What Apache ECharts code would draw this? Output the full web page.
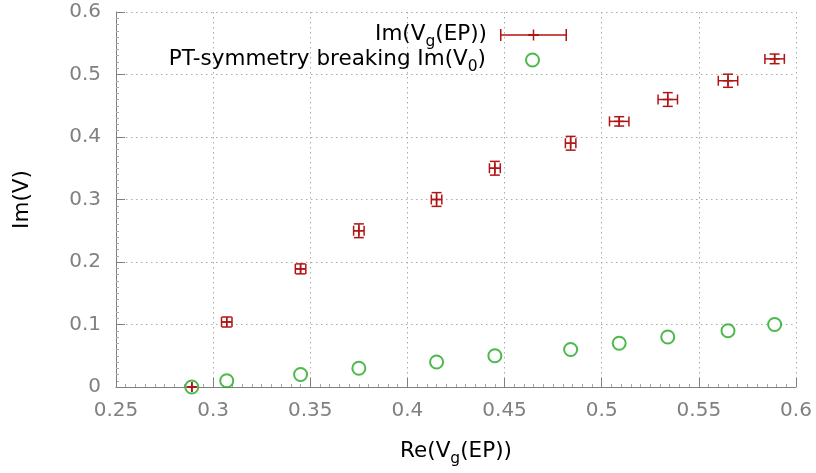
<!DOCTYPE html>
<html>
<head>
<meta charset="utf-8">
<script src="https://cdn.jsdelivr.net/npm/echarts@6/dist/echarts.min.js"></script>
<style>html,body{margin:0;padding:0;background:#fff}#c{width:816px;height:473px}</style>
</head>
<body>
<div id="c"></div>
<script>
var reVg   = [0.289, 0.307, 0.345, 0.375, 0.415, 0.445, 0.484, 0.509, 0.534, 0.565, 0.589];
var imVg   = [0, 0.104, 0.189, 0.25, 0.30, 0.35, 0.39, 0.425, 0.46, 0.49, 0.525];
var xErr   = [0, 0.0027, 0.0027, 0.0027, 0.0027, 0.0028, 0.0027, 0.005, 0.005, 0.005, 0.005];
var yErr   = [0, 0.008, 0.008, 0.011, 0.011, 0.011, 0.011, 0.0075, 0.011, 0.0105, 0.0077];
var imV0   = [0, 0.01, 0.02, 0.03, 0.04, 0.05, 0.06, 0.07, 0.08, 0.09, 0.10];
var xTicks = [0.25, 0.3, 0.35, 0.4, 0.45, 0.5, 0.55, 0.6];
var yTicks = [0, 0.1, 0.2, 0.3, 0.4, 0.5, 0.6];

var RED = '#b01515', GREEN = '#1ea81e', GRAY = '#808080';
var FONT = 'DejaVu Sans';

var errData = reVg.map(function (x, i) { return [x, imVg[i], xErr[i], yErr[i]]; });
var circData = reVg.map(function (x, i) { return [x, imV0[i]]; });

var richTxt = {
  n: { fontFamily: FONT, fontSize: 21.5, color: '#000', lineHeight: 24, verticalAlign: 'top' },
  s: { fontFamily: FONT, fontSize: 15.5, color: '#000', lineHeight: 20, padding: [11, 0, 0, 0], verticalAlign: 'top' }
};

var chart = echarts.init(document.getElementById('c'), null, { renderer: 'canvas' });
chart.setOption({
  animation: false,
  backgroundColor: '#fff',
  grid: { left: 116, right: 20, top: 12, bottom: 86 },
  xAxis: {
    type: 'value', min: xTicks[0], max: xTicks[xTicks.length - 1], interval: 0.05,
    name: '{n|Re(V}{s|g}{n|(EP))}', nameLocation: 'middle', nameGap: 53,
    nameTextStyle: { rich: richTxt },
    axisLine: { show: true, lineStyle: { color: GRAY, width: 1 } },
    axisTick: { show: true, inside: true, length: 9, lineStyle: { color: GRAY } },
    minorTick: { show: true, splitNumber: 10, length: 3, lineStyle: { color: '#aaa' } },
    axisLabel: { color: GRAY, fontSize: 20, fontFamily: FONT, margin: 14 },
    splitLine: { show: true, lineStyle: { color: '#aaa', type: [1.5, 3.5], width: 1 } }
  },
  yAxis: {
    type: 'value', min: yTicks[0], max: yTicks[yTicks.length - 1], interval: 0.1,
    name: 'Im(V)', nameLocation: 'middle', nameGap: 83,
    nameTextStyle: { color: '#000', fontSize: 21.5, fontFamily: FONT },
    axisLine: { show: true, lineStyle: { color: GRAY, width: 1 } },
    axisTick: { show: true, inside: true, length: 9, lineStyle: { color: GRAY } },
    minorTick: { show: true, splitNumber: 10, length: 3, lineStyle: { color: '#aaa' } },
    axisLabel: { color: GRAY, fontSize: 20, fontFamily: FONT, margin: 15 },
    splitLine: { show: true, lineStyle: { color: '#aaa', type: [1.5, 3.5], width: 1 } }
  },
  legend: [{
    data: [{ name: 'ImVg', icon: 'path://M0,0h1.5v12h-1.5z M0,5.25h67v1.5h-67z M65.5,0h1.5v12h-1.5z M32.75,0.5h1.5v11h-1.5z M28,5h11v2h-11z' }],
    right: 244, top: 18, align: 'right', orient: 'vertical',
    itemWidth: 67, itemHeight: 12,
    formatter: function () { return '{n|Im(V}{s|g}{n|(EP))}'; },
    textStyle: { rich: richTxt, padding: [0, 8, 0, 0] },
    itemStyle: { color: RED }
  }, {
    data: [{ name: 'PT', icon: 'emptyCircle' }],
    right: 271, top: 43, align: 'right', orient: 'vertical',
    itemWidth: 13, itemHeight: 13,
    formatter: function () { return '{n|PT-symmetry breaking Im(V}{s|0}{n|)}'; },
    textStyle: { rich: richTxt, padding: [0, 35, 0, 0] }
  }],
  series: [{
    name: 'ImVg', type: 'custom', clip: false, z: 3,
    itemStyle: { color: RED },
    data: errData,
    encode: { x: 0, y: 1 },
    renderItem: function (params, api) {
      var x = api.value(0), y = api.value(1), xe = api.value(2), ye = api.value(3);
      var c = api.coord([x, y]);
      var l = api.coord([x - xe, y]), r = api.coord([x + xe, y]);
      var t = api.coord([x, y + ye]), b = api.coord([x, y - ye]);
      var cap = 5, pl = 5;
      var st = { stroke: RED, lineWidth: 1.5, fill: null };
      function ln(x1, y1, x2, y2) { return { type: 'line', shape: { x1: x1, y1: y1, x2: x2, y2: y2 }, style: st }; }
      return { type: 'group', children: [
        ln(l[0], c[1], r[0], c[1]),
        ln(l[0], c[1] - cap, l[0], c[1] + cap),
        ln(r[0], c[1] - cap, r[0], c[1] + cap),
        ln(c[0], t[1], c[0], b[1]),
        ln(c[0] - cap, t[1], c[0] + cap, t[1]),
        ln(c[0] - cap, b[1], c[0] + cap, b[1]),
        ln(c[0] - pl, c[1], c[0] + pl, c[1]),
        ln(c[0], c[1] - pl, c[0], c[1] + pl)
      ] };
    }
  }, {
    name: 'PT', type: 'scatter', clip: false, z: 2,
    symbol: 'emptyCircle', symbolSize: 13,
    itemStyle: { color: GREEN, borderColor: GREEN, borderWidth: 1.5 },
    data: circData
  }]
});
</script>
</body>
</html>
